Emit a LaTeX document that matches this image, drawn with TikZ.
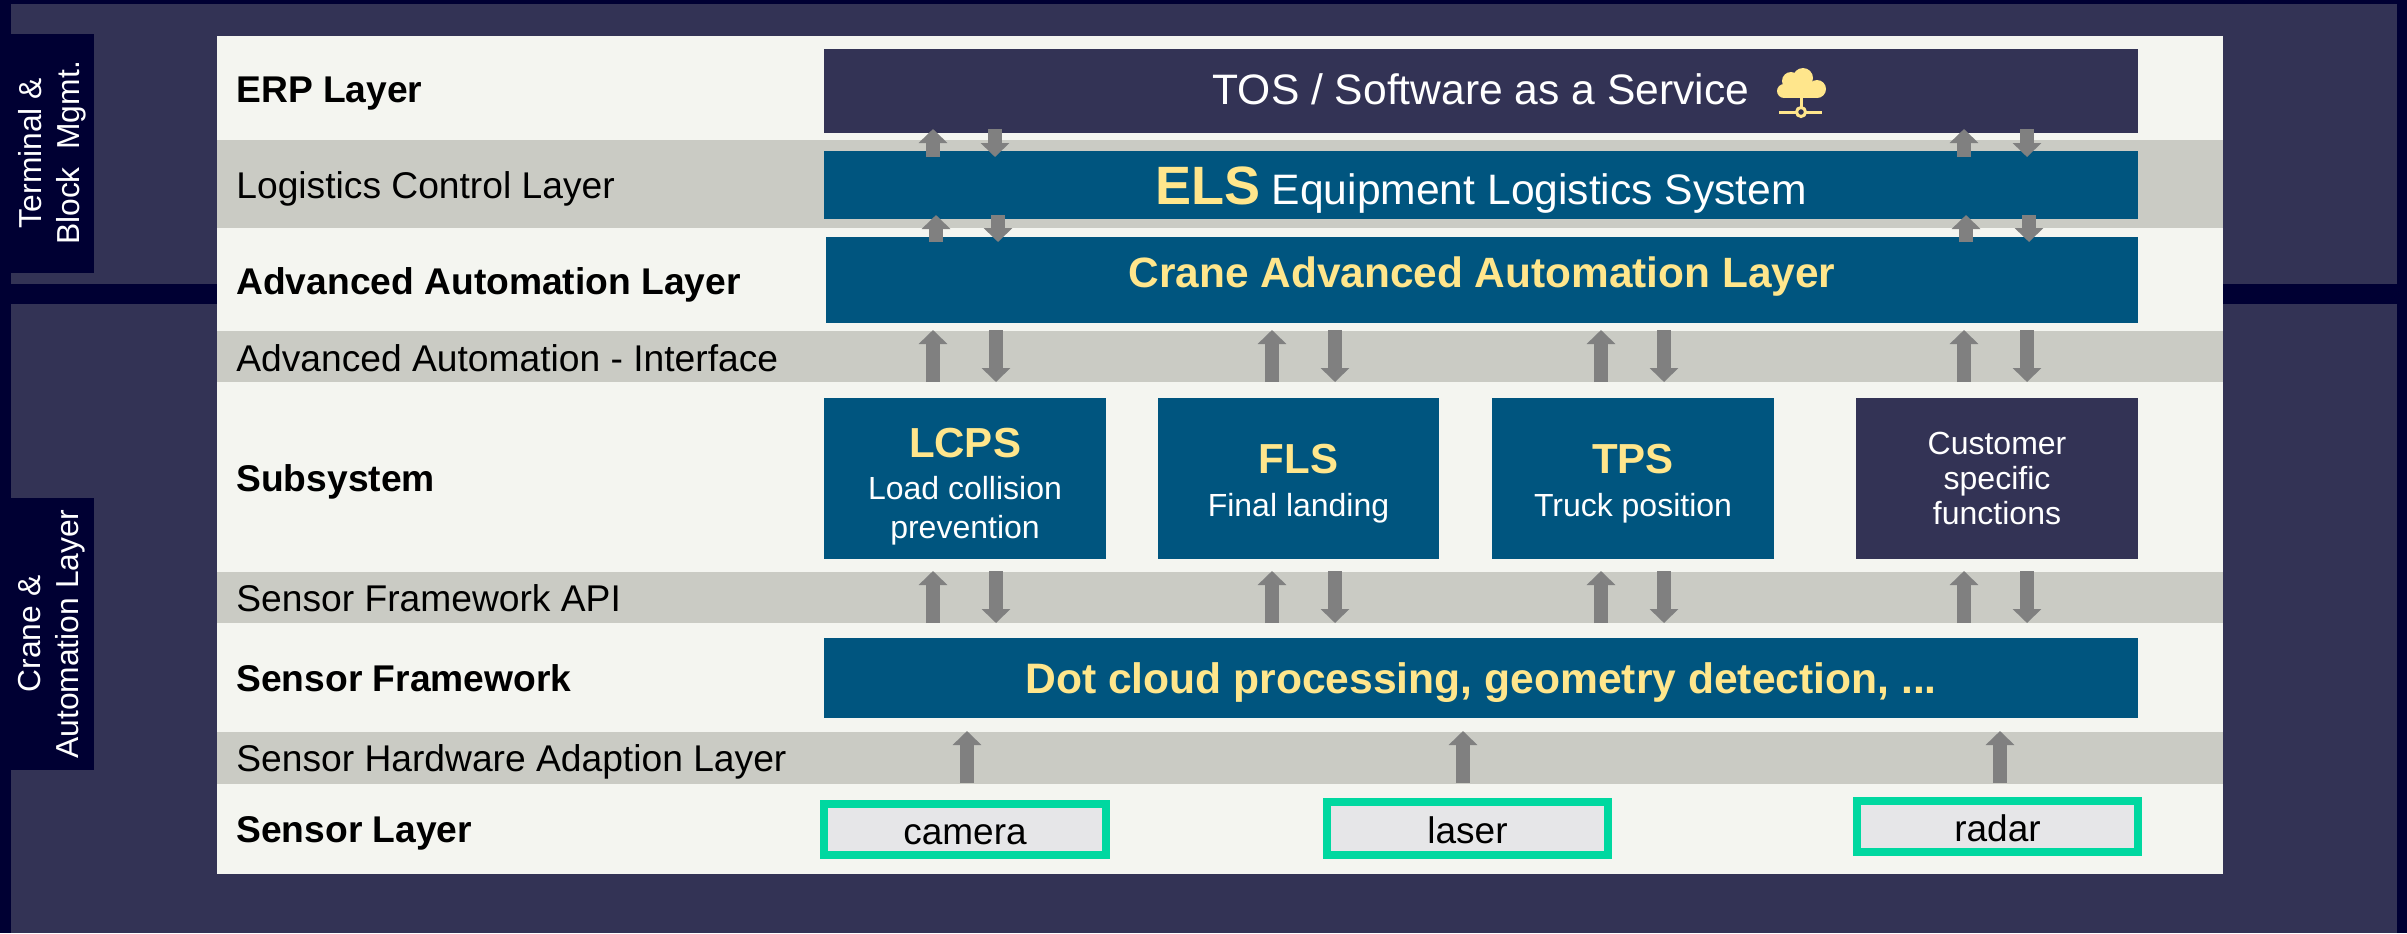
\documentclass[tikz,border=0pt]{standalone}
\usepackage{fontspec}
\setmainfont{Liberation Sans}
\usetikzlibrary{arrows.meta}
\definecolor{navy}{HTML}{000033}
\definecolor{slate}{HTML}{333355}
\definecolor{petrol}{HTML}{00557F}
\definecolor{paper}{HTML}{F4F5F0}
\definecolor{band}{HTML}{CACBC4}
\definecolor{sand}{HTML}{FFE68C}
\definecolor{mint}{HTML}{00D8A0}
\definecolor{sensorgray}{HTML}{E6E6E8}
\newcommand{\px}[1]{\fontsize{\dimexpr#1pt/2\relax}{\dimexpr#1pt*6/10\relax}\selectfont}
\tikzset{
	lbl/.style={anchor=west,inner sep=0pt,font=\px{37.2}},
	lblb/.style={lbl,font=\px{37.2}\bfseries},
	sidetag/.style={rotate=90,align=center,text=white,font=\px{31.8}},
	box/.style={fill=petrol,inner sep=0pt},
	darkbox/.style={box,fill=slate},
	boxtext/.style={text=white,inner sep=0pt,align=center,font=\px{32}},
	headline/.style={boxtext,font=\px{42.6}},
	yellowline/.style={boxtext,text=sand,font=\px{42.6}\bfseries},
	sensor/.style={fill=sensorgray,draw=mint,line width=4pt,inner sep=0pt,font=\px{37}},
	flow/.style={draw=gray,line width=7pt,-{Triangle[length=7pt,width=14pt]}},
}
% x1,y1,x2,y2 in image pixels
\newcommand{\rectnode}[5][]{\node[#1,minimum width={(#4-#2)*0.5pt},minimum height={(#5-#3)*0.5pt}] at ({(#2+#4)/2},{(#3+#5)/2})}
\newcommand{\sandb}[2]{\textcolor{sand}{\px{#1}\bfseries #2}}
\newcommand{\sensortext}[1]{\smash{\raisebox{-7.25pt}{#1}}}
\begin{document}
\begin{tikzpicture}[x=0.5pt,y=-0.5pt]
	\useasboundingbox (0,0) rectangle (2407,933);
	\fill[navy] (0,0) rectangle (2407,933);
	\fill[slate] (11,4) rectangle (2397,284);
	\fill[slate] (11,304) rectangle (2397,933);
	\fill[paper] (217,36) rectangle (2223,874);
	% bands
	\foreach \ya/\yb in {140/228,331/382,572/623,732/784}
		\fill[band] (217,\ya) rectangle (2223,\yb);
	% side tags
	\fill[navy] (11,34) rectangle (94,273);
	\fill[navy] (11,498) rectangle (94,770);
	\node[sidetag] (tagterm) at (52,153) {Terminal \&\\Block~ Mgmt.};
	\node[sidetag] (tagcrane) at (52,634) {Crane \&\\Automation Layer};
	% layer names
	\node[lblb] (erp) at (236,94) {ERP Layer};
	\node[lbl] (logi) at (236,189) {Logistics Control Layer};
	\node[lblb] (adv) at (236,285) {Advanced Automation Layer};
	\node[lbl] (ifc) at (236,358) {Advanced Automation - Interface};
	\node[lblb] (subs) at (236,482) {Subsystem};
	\node[lbl] (api) at (236,598) {Sensor Framework API};
	\node[lblb] (fw) at (236,678) {Sensor Framework};
	\node[lbl] (hal) at (236,762) {Sensor Hardware Adaption Layer};
	\node[lblb] (sens) at (236,833) {Sensor Layer};
	% boxes
	\rectnode[darkbox]{824}{49}{2138}{133} (tos) {};
	\rectnode[box]{824}{151}{2138}{219} (els) {};
	\rectnode[box]{826}{237}{2138}{323} (caal) {};
	\rectnode[box]{824}{398}{1106}{559} (lcps) {};
	\rectnode[box]{1158}{398}{1439}{559} (fls) {};
	\rectnode[box]{1492}{398}{1774}{559} (tps) {};
	\rectnode[darkbox]{1856}{398}{2138}{559} (cust) {};
	\rectnode[box]{824}{638}{2138}{718} (dots) {};
	% box texts
	\node[headline] (tostxt) at ([yshift=1pt]tos.center) {TOS / Software as a Service};
	\node[headline] (elstxt) at ([yshift=-2.3pt]els.center) {\sandb{54}{ELS} Equipment Logistics System};
	\node[yellowline,font=\px{42.4}\bfseries] (caaltxt) at ([yshift=1.5pt]caal.center) {Crane Advanced Automation Layer};
	\node[boxtext] (lcpstxt) at ([yshift=-4pt]lcps.center) {\sandb{42}{LCPS}\\[2pt]Load collision\\prevention};
	\node[boxtext] (flstxt) at ([yshift=-2.6pt]fls.center) {\sandb{42}{FLS}\\[2pt]Final landing};
	\node[boxtext] (tpstxt) at ([yshift=-2.6pt]tps.center) {\sandb{42}{TPS}\\[2pt]Truck position};
	\node[boxtext] (custtxt) at (cust.center) {Customer\\[-1.7pt]specific\\[-1.7pt]functions};
	\node[yellowline] (dotstxt) at ([yshift=-2.3pt]dots.center) {Dot cloud processing, geometry detection, ...};
	% sensors
	\rectnode[sensor]{824}{804}{1106}{855} (cam) {\sensortext{camera}};
	\rectnode[sensor]{1327}{802}{1608}{855} (las) {\sensortext{laser}};
	\rectnode[sensor]{1857}{801}{2138}{852} (rad) {\sensortext{radar}};
	% cloud
	\fill[sand] (1803,78) circle (10);
	\fill[sand] (1791,81) circle (9);
	\fill[sand] (1784,91) circle (7);
	\fill[sand] (1817,89) circle (9);
	\fill[sand] (1784,84) rectangle (1817,98);
	\draw[sand,line width=1.5pt] (1801,98) -- (1801,108) (1779,112) -- (1822,112);
	\draw[sand,line width=1.5pt,fill=slate] (1801,112) circle (4.5);
	% arrows
	\foreach \xu/\xd/\ya/\yb [count=\i] in {933/995/129/157,936/998/215/242,1964/2027/129/157,1966/2029/215/242,933/996/330/382,1272/1335/330/382,1601/1664/330/382,1964/2027/330/382,933/996/571/623,1272/1335/571/623,1601/1664/571/623,1964/2027/571/623}{
		\coordinate (ua\i) at (\xu,\yb);
		\coordinate (ub\i) at (\xu,\ya);
		\coordinate (da\i) at (\xd,\ya);
		\coordinate (db\i) at (\xd,\yb);
		\draw[flow] (ua\i) -- (ub\i);
		\draw[flow] (da\i) -- (db\i);
	}
	\foreach \xu [count=\i] in {967,1463,2000}{
		\coordinate (ha\i) at (\xu,783);
		\coordinate (hb\i) at (\xu,731);
		\draw[flow] (ha\i) -- (hb\i);
	}
\end{tikzpicture}
\end{document}
